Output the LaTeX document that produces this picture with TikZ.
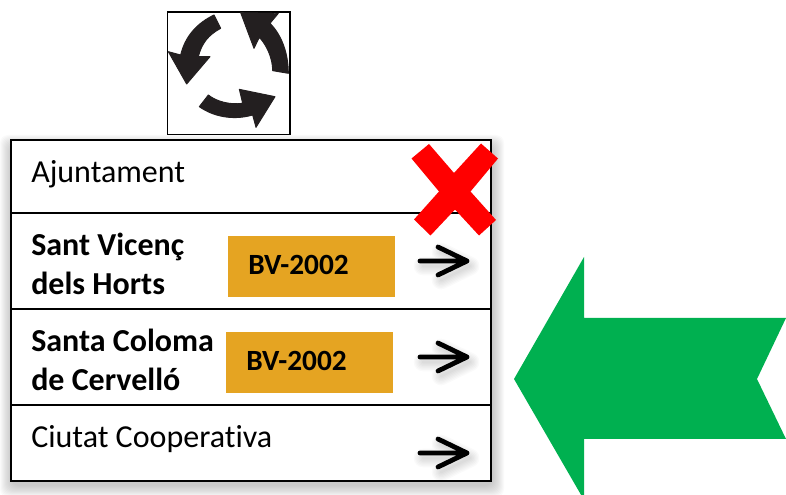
\documentclass[tikz,border=0pt]{standalone}
\usepackage{fontspec}
\setmainfont[Ligatures=NoCommon]{Carlito}
\begin{document}
\begin{tikzpicture}[x=0.75pt,y=-0.75pt,
  lbl/.style={anchor=base west,inner sep=0pt,font=\fontsize{24}{28}\selectfont,text=black},
  blbl/.style={lbl,font=\fontsize{24}{28}\selectfont\bfseries},
  road/.style={anchor=base west,inner sep=0pt,font=\fontsize{22}{26}\selectfont\bfseries,text=black},
  rule/.style={draw=black,line width=1.5pt},
  pointer/.style={draw=black,line width=3.6pt,line cap=round,line join=round},
  badge/.style={fill=badgeor},
  ring/.style={fill=ringdk,draw=ringdk,line width=0.7pt,line join=round}]
\definecolor{badgeor}{HTML}{E5A422}
\definecolor{ringdk}{HTML}{231F20}
\definecolor{signgreen}{HTML}{00B050}
\useasboundingbox (0,0) rectangle (786,495);
\clip (0,0) rectangle (786,495);
% table shadow
\foreach \i in {0,...,11}
  \fill[black,opacity=0.02,rounded corners=6pt] (11+1-12+\i,140+7-12+\i) rectangle (491+1+12-\i,481+4+12-\i);
% table
\fill[white] (11,140) rectangle (491,481);
\draw[rule] (11,213) -- (491,213);
\draw[rule] (11,309) -- (491,309);
\draw[rule] (11,405) -- (491,405);
\draw[rule] (11,140.5) rectangle (491,481);
% icon
\fill[white] (167.5,12) rectangle (290,134.5);
\draw[black,line width=1.3pt] (167.5,12) rectangle (290,134.5);
\begin{scope}[shift={(150,0)},x=0.25pt,y=-0.25pt]
 \filldraw[ring] (192,45) -- (212,85) .. controls (175,105) and (155,130) .. (145,170) -- (180,170) -- (110,252) -- (55,155) -- (92,165) .. controls (105,110) and (140,70) .. (192,45) -- cycle;
 \filldraw[ring] (272,38) -- (385,40) -- (360,70) .. controls (395,105) and (415,160) .. (415,220) -- (368,212) .. controls (368,175) and (350,135) .. (328,112) -- (312,145) -- cycle;
 \filldraw[ring] (175,285) .. controls (200,305) and (240,315) .. (278,310) -- (268,268) -- (375,290) -- (318,382) -- (308,345) .. controls (250,362) and (190,350) .. (148,320) -- cycle;
\end{scope}
% badges
\fill[badge] (228,236) rectangle (395,297);
\fill[badge] (226,332) rectangle (393,393);
% text
\node[lbl] (ajun) at (31,182.5) {Ajuntament};
\node[blbl] (sv1) at (31,255.5) {Sant Vicenç};
\node[blbl] (sv2) at (31,294.5) {dels Horts};
\node[blbl] (sc1) at (31,351.5) {Santa Coloma};
\node[blbl] (sc2) at (31,390.5) {de Cervelló};
\node[lbl] (ciu) at (31,447.5) {Ciutat Cooperativa};
\node[road] (bv1) at (248,274.5) {BV-2002};
\node[road] (bv2) at (246,370.5) {BV-2002};
% pointers
\foreach \yy in {261,357,453}{
  \foreach \i in {1,...,7}
    \draw[black,opacity=0.02,line width=\i*2pt,line cap=round,line join=round]
      (423,\yy+5) -- (470,\yy+5) (441,\yy-9) -- (470,\yy+5) -- (441,\yy+19);
  \draw[pointer] (420,\yy) -- (467,\yy) (438,\yy-14) -- (467,\yy) -- (438,\yy+14);
}
% cross
\fill[red] (429,144) -- (454,173) -- (481,143.5) -- (498,158.5) -- (470.5,191.5) -- (496,220) -- (479,235.5) -- (455,209.5) -- (430.5,235.5) -- (414,219.5) -- (439,191.5) -- (411.5,158.5) -- cycle;
% green arrow
\fill[signgreen] (514,379) -- (584,257) -- (584,318) -- (786,318) -- (757,379) -- (786,439) -- (584,439) -- (584,500) -- cycle;
\end{tikzpicture}
\end{document}
